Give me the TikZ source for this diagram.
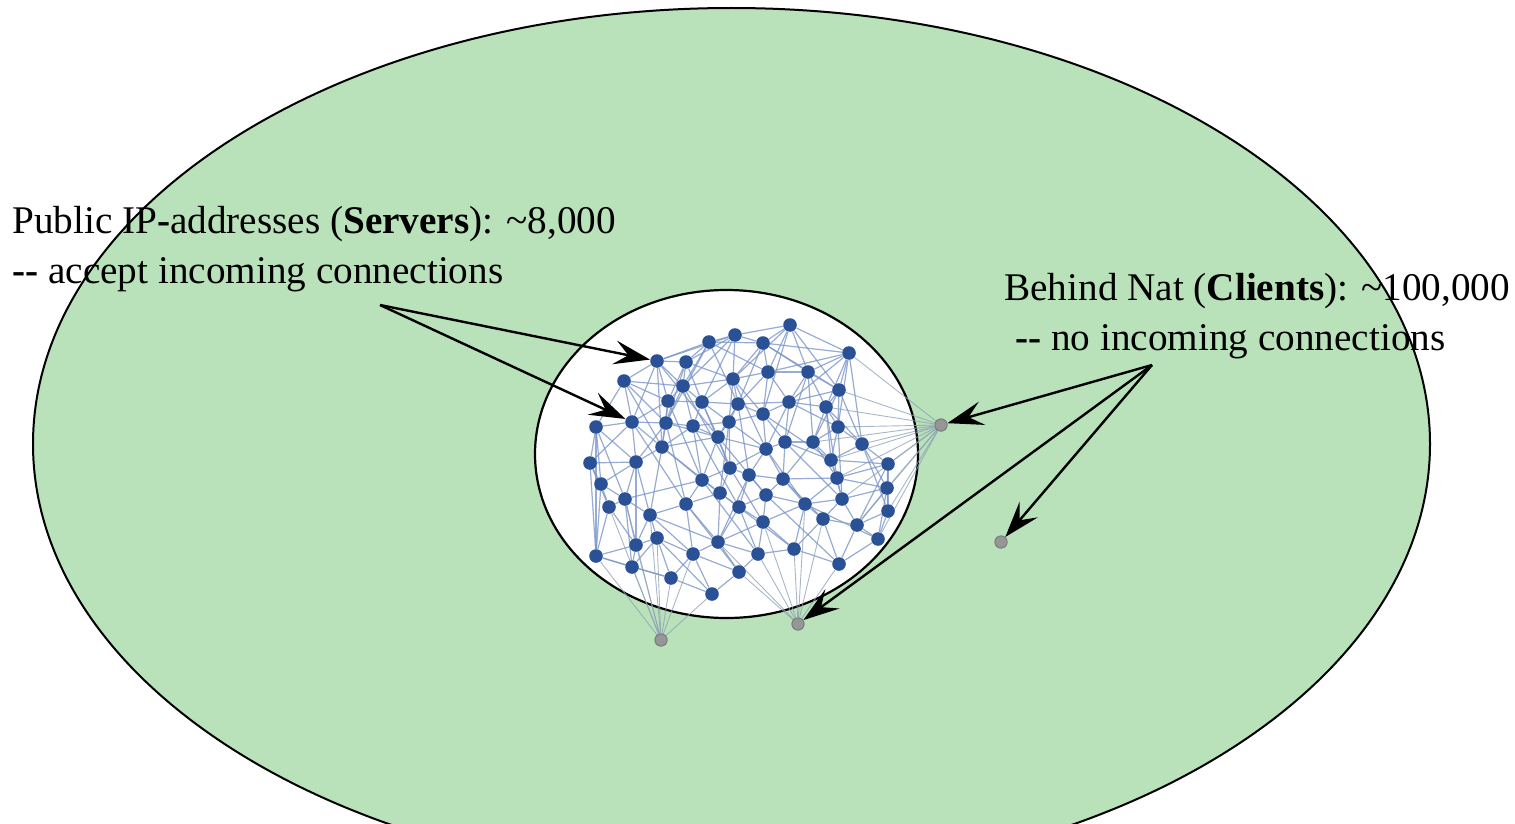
\documentclass[tikz,border=0pt]{standalone}
\usepackage{fontspec}
\setmainfont{Liberation Serif}
\usetikzlibrary{arrows.meta}
\pgfdeclarelayer{back}
\pgfdeclarelayer{mid}
\pgfsetlayers{back,mid,main}
\definecolor{zone}{RGB}{185,225,186}
\definecolor{srvblue}{RGB}{42,80,150}
\definecolor{linkblue}{RGB}{125,150,200}
\definecolor{fangray}{RGB}{140,160,180}
\definecolor{natgray}{RGB}{150,150,150}
\begin{document}
\begin{tikzpicture}[x=0.5pt,y=-0.5pt,
  srv/.style={circle,fill=srvblue,inner sep=0pt,minimum size=6.8pt},
  nat/.style={circle,fill=natgray,draw=black!55,line width=0.4pt,inner sep=0pt,minimum size=6.2pt},
  lnk/.style={linkblue,line width=0.6pt,opacity=0.8},
  fan/.style={fangray,line width=0.45pt,opacity=0.75},
  pointer/.style={line width=1.2pt,-{Stealth[length=18pt,width=12pt,inset=7pt]}},
  lbl/.style={anchor=base west,inner sep=0pt,font=\fontsize{19.6}{24}\selectfont}]
\useasboundingbox (0,0) rectangle (1515,824);

% the whole network zone and the core of public servers
\begin{pgfonlayer}{back}
  \begin{scope}
    \clip (0,0) rectangle (1515,824);
    \draw[fill=zone,line width=1pt] (731.5,444) ellipse [x radius=698.5, y radius=436];
    \draw[fill=white,line width=1.1pt] (726.5,454) ellipse [x radius=191.5, y radius=164];
  \end{scope}
\end{pgfonlayer}

% servers
\foreach \i/\x/\y in {
  1/790/325, 2/735/335, 3/709/342, 4/763/343, 5/849/353, 6/657/361,
  7/686/362, 8/768/372, 9/808/372, 10/624/381, 11/733/379, 12/683/386,
  13/839/390, 14/668/401, 15/702/402, 16/738/404, 17/789/402, 18/826/407,
  19/763/414, 20/632/422, 21/666/423, 22/693/426, 23/729/422, 24/596/427,
  25/838/427, 26/718/437, 27/766/449, 28/785/442, 29/813/442, 30/862/444,
  31/662/447, 32/636/462, 33/590/463, 34/831/460, 35/888/464, 36/730/468,
  37/749/475, 38/702/480, 39/783/479, 40/837/478, 41/601/484, 42/887/488,
  43/720/493, 44/766/495, 45/842/499, 46/625/499, 47/609/507, 48/686/504,
  49/739/507, 50/805/504, 51/888/511, 52/650/515, 53/823/519, 54/763/522,
  55/857/525, 56/657/538, 57/636/545, 58/718/542, 59/878/539, 60/596/556,
  61/693/554, 62/758/554, 63/794/549, 64/632/567, 65/739/572, 66/839/564,
  67/671/578, 68/712/594}
  \node[srv] (n\i) at (\x,\y) {};

% clients behind NAT
\node[nat] (c1) at (941,425) {};
\node[nat] (c2) at (1001,542) {};
\node[nat] (c3) at (798,624) {};
\node[nat] (c4) at (661,640) {};

\begin{pgfonlayer}{mid}
  % server-to-server links
  \foreach \a/\b in {
    1/2,1/4,1/5,1/9,1/8,1/11, 2/3,2/4,2/6,2/11,2/7,2/15, 3/6,3/7,3/12,3/4,3/8,
    4/5,4/8,4/11,4/9,4/13, 5/9,5/13,5/18,5/8,5/25,5/17, 6/7,6/10,6/12,6/20,6/14,
    7/12,7/11,7/14,7/15, 8/9,8/11,8/17,8/19,8/16, 9/13,9/17,9/18,9/29,
    10/14,10/20,10/24,10/12,10/21, 11/12,11/15,11/16,11/19,11/23,
    12/14,12/15,12/21,12/22, 13/18,13/25,13/17,13/30, 14/20,14/21,14/31,14/15,
    15/16,15/22,15/23,15/26, 16/19,16/23,16/17,16/26, 17/18,17/19,17/28,17/25,
    18/25,18/29,18/34,18/30, 19/23,19/27,19/28, 20/24,20/21,20/32,20/31,20/33,
    21/22,21/31,21/32,21/26, 22/23,22/26,22/31,22/38, 23/26,23/27,23/36,
    24/33,24/41,24/32,24/60, 25/29,25/30,25/34, 26/36,26/27,26/38,26/31,
    27/28,27/36,27/37,27/39, 28/29,28/39,28/34, 29/34,29/40,29/39,
    30/35,30/34,30/42, 31/32,31/38,31/52, 32/33,32/41,32/46,32/57, 33/41,33/47,
    34/40,34/45,34/35, 35/42,35/40,35/51, 36/37,36/43,36/38, 37/39,37/44,37/49,
    38/43,38/48,38/46, 39/44,39/50,39/40, 40/45,40/42,40/50, 41/47,41/46,41/60,
    42/51,42/45,42/55, 43/49,43/48,43/58, 44/49,44/50,44/54, 45/50,45/55,45/53,
    46/47,46/52,46/57, 47/57,47/60, 48/52,48/58,48/61, 49/54,49/58,49/62,
    50/53,50/63,50/54, 51/55,51/59, 52/56,52/57,52/61, 53/55,53/63,53/66,
    54/62,54/63,54/58, 55/59,55/66, 56/57,56/64,56/67,56/61, 57/60,57/64,
    58/61,58/65,58/62, 59/66, 60/64, 61/67,61/68,61/65, 62/63,62/65, 63/66,
    64/67, 65/68, 67/68,
    1/19,6/26,10/31,3/16,12/36,20/48,22/49,26/44,31/43,27/50,36/54,38/62,
    43/63,48/65,52/58,14/38,21/48,9/28,4/16,13/29,17/27,28/45,39/53,37/58,
    44/66,50/59,19/34,25/45,32/52,46/64,56/68,2/12,7/21,15/36,16/37,23/43,
    33/60,18/40,30/51,35/55,42/59,6/31,1/13,5/30,24/46,11/27,3/21,60/67}
    \draw[lnk] (n\a) -- (n\b);
  % client connections into the server core
  \foreach \b in {5,13,18,25,29,30,34,35,40,42,45,51,55,59}
    \draw[fan] (c1) -- (n\b);
  \foreach \b in {50,53,54,58,62,63,65,66}
    \draw[fan] (c3) -- (n\b);
  \foreach \b in {46,47,52,56,57,60,61,64,67,68}
    \draw[fan] (c4) -- (n\b);
\end{pgfonlayer}

% labels
\node[lbl] (pubA) at (12,233) {Public IP\textbf{-}addresses (\textbf{Servers}): \textasciitilde 8,000};
\node[lbl] (pubB) at (12,283) {\textbf{-{}-} accept incoming connections};
\node[lbl] (natA) at (1004,300) {Behind Nat (\textbf{Clients}): \textasciitilde 100,000};
\node[lbl] (natB) at (1015,350) {\textbf{-{}-} no incoming connections};

% pointers
\coordinate (sL) at (380,305);
\coordinate (sR) at (1152,365);
\draw[pointer] (sL) -- (n6);
\draw[pointer] (sL) -- (n20);
\draw[pointer] (sR) -- (c1);
\draw[pointer] (sR) -- (c2);
\draw[pointer] (sR) -- (c3);
\end{tikzpicture}
\end{document}
